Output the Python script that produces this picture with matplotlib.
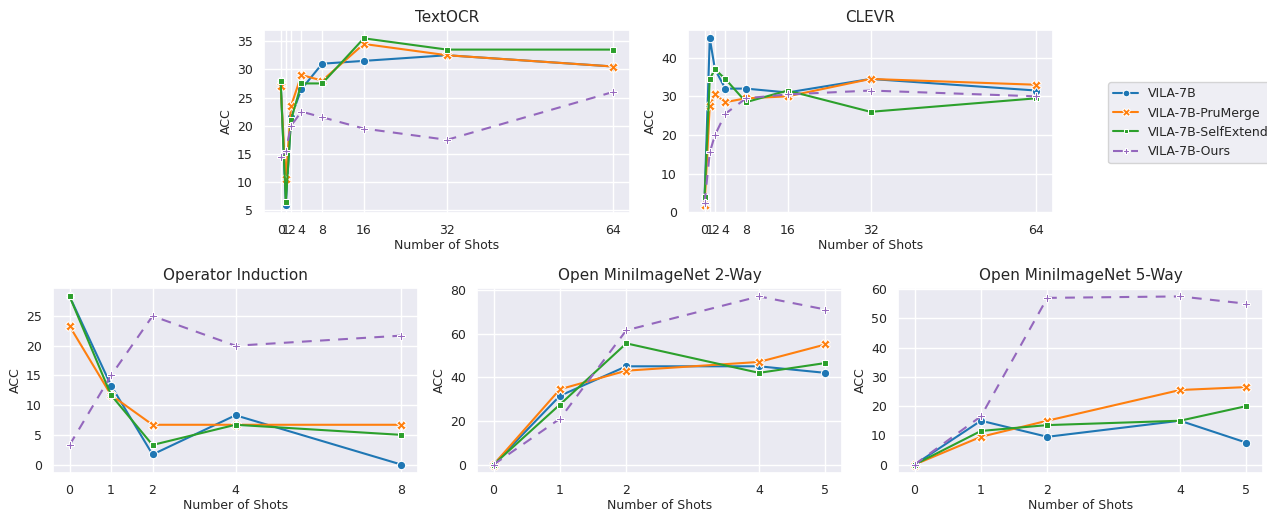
import matplotlib
matplotlib.use("Agg")
import matplotlib.pyplot as plt
import seaborn as sns
import numpy as np

sns.set_theme(style="darkgrid")
plt.rcParams['font.family'] = ['DejaVu Sans']

models = ["VILA-7B", "VILA-7B-PruMerge", "VILA-7B-SelfExtend", "VILA-7B-Ours"]
colors = ["#1f77b4", "#ff7f0e", "#2ca02c", "#9467bd"]
markers = ["o", "X", (4, 0, 45), "P"]
msizes = [6, 7, 6, 6]

# TextOCR
textocr_shots = [0, 1, 2, 4, 8, 16, 32, 64]
textocr_vila = [28.0, 6.0, 21.5, 26.5, 31.0, 31.5, 32.5, 30.5]
textocr_prumerge = [27.0, 10.5, 23.5, 29.0, 28.0, 34.5, 32.5, 30.5]
textocr_selfextend = [28.0, 6.5, 21.0, 27.5, 27.5, 35.5, 33.5, 33.5]
textocr_ours = [14.5, 15.5, 20.0, 22.5, 21.5, 19.5, 17.5, 26.0]

# CLEVR
clevr_shots = [0, 1, 2, 4, 8, 16, 32, 64]
clevr_vila = [4.0, 45.0, 37.0, 32.0, 32.0, 31.0, 34.5, 31.5]
clevr_prumerge = [2.0, 27.5, 30.5, 28.5, 29.5, 30.0, 34.5, 33.0]
clevr_selfextend = [4.0, 34.5, 37.0, 34.5, 28.5, 31.5, 26.0, 29.5]
clevr_ours = [2.5, 15.5, 20.0, 25.5, 29.5, 30.5, 31.5, 30.0]

# Operator Induction
op_shots = [0, 1, 2, 4, 8]
op_vila = [28.3, 13.3, 1.7, 8.3, 0.0]
op_prumerge = [23.3, 11.7, 6.7, 6.7, 6.7]
op_selfextend = [28.3, 11.7, 3.3, 6.7, 5.0]
op_ours = [3.3, 15.0, 25.0, 20.0, 21.7]

# Open MiniImageNet 2-Way
mini2_shots = [0, 1, 2, 4, 5]
mini2_vila = [0.0, 31.5, 45.0, 45.0, 42.0]
mini2_prumerge = [0.0, 34.5, 43.0, 47.0, 55.0]
mini2_selfextend = [0.0, 27.5, 55.5, 42.0, 46.5]
mini2_ours = [0.0, 21.0, 61.5, 77.0, 71.0]

# Open MiniImageNet 5-Way
mini5_shots = [0, 1, 2, 4, 5]
mini5_vila = [0.0, 15.0, 9.5, 15.0, 7.5]
mini5_prumerge = [0.0, 9.5, 15.0, 25.5, 26.5]
mini5_selfextend = [0.0, 11.5, 13.5, 15.0, 20.0]
mini5_ours = [0.0, 16.5, 57.0, 57.5, 55.0]

W, H = 1267, 512
fig = plt.figure(figsize=(W / 100, H / 100), dpi=100)

def pos(l, r, t, b):
    return [l / W, 1 - b / H, (r - l) / W, (b - t) / H]

panels = [
    ("TextOCR", pos(264, 630, 30, 213), textocr_shots,
     [textocr_vila, textocr_prumerge, textocr_selfextend, textocr_ours]),
    ("CLEVR", pos(688, 1053, 30, 213), clevr_shots,
     [clevr_vila, clevr_prumerge, clevr_selfextend, clevr_ours]),
    ("Operator Induction", pos(53, 418, 288, 473), op_shots,
     [op_vila, op_prumerge, op_selfextend, op_ours]),
    ("Open MiniImageNet 2-Way", pos(477, 842, 288, 473), mini2_shots,
     [mini2_vila, mini2_prumerge, mini2_selfextend, mini2_ours]),
    ("Open MiniImageNet 5-Way", pos(898, 1263, 288, 473), mini5_shots,
     [mini5_vila, mini5_prumerge, mini5_selfextend, mini5_ours]),
]

handles = None
for title, rect, shots, series in panels:
    ax = fig.add_axes(rect)
    hs = []
    for i, (name, vals) in enumerate(zip(models, series)):
        ls = (0, (4.7, 4.0)) if i == 3 else "-"
        h, = ax.plot(shots, vals, color=colors[i], marker=markers[i], linestyle=ls,
                     linewidth=1.5, markersize=msizes[i],
                     markeredgecolor="white", markeredgewidth=0.75, label=name)
        hs.append(h)
    handles = hs
    ax.set_xticks(shots)
    ax.set_title(title, fontsize=11)
    ax.set_xlabel("Number of Shots", fontsize=9, labelpad=1.5)
    ax.set_ylabel("ACC", fontsize=9, labelpad=3)
    ax.tick_params(labelsize=9, pad=2)

fig.legend(handles, models, loc="upper left", bbox_to_anchor=(1102 / W, 1 - 76 / H),
           fontsize=9, frameon=True, markerscale=0.8)

fig.savefig("out.png", dpi=100)
